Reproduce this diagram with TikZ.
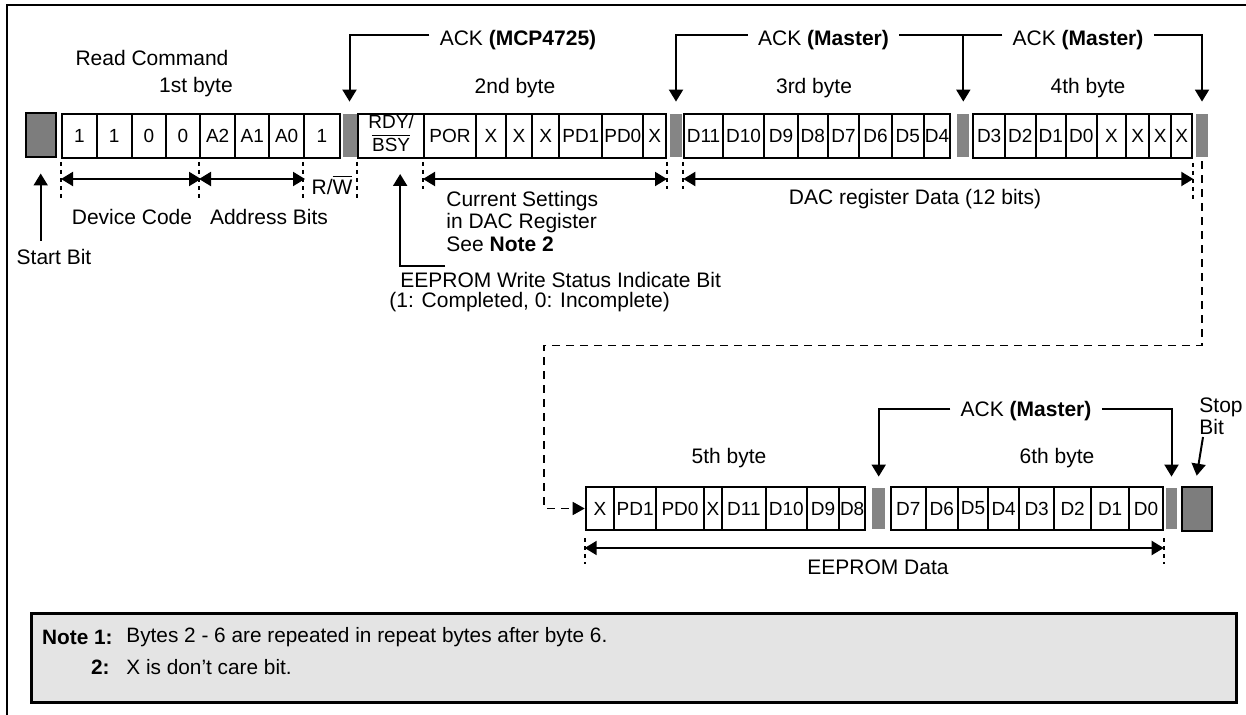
\documentclass[tikz,border=0pt]{standalone}
\usepackage{fontspec}
\setmainfont{Liberation Sans}
\usetikzlibrary{arrows.meta}
\definecolor{bargray}{RGB}{133,133,133}
\definecolor{boxgray}{RGB}{125,125,125}
\definecolor{notegray}{RGB}{228,228,228}
\newcommand{\rdybsy}{\smash{\raisebox{-2.4pt}{\begin{tabular}{@{}c@{}}RDY/\\$\overline{\hbox{BSY}}$\end{tabular}}}}
\newcommand{\byterow}[4]{%
  \foreach \a/\b/\t [count=\i] in {#4} {
    \node[cellbox, minimum width={(\b-\a)*0.5pt}, minimum height=#3] (#1c\i) at ({(\a+\b)/2},#2) {\t};
  }}
\begin{document}
\begin{tikzpicture}[x=0.5pt,y=-0.5pt,
  cellbox/.style={draw, line width=1pt, inner sep=0pt, font=\fontsize{9.5}{10}\selectfont},
  bar/.style={fill=bargray, inner sep=0pt},
  sbox/.style={draw, line width=1pt, fill=boxgray, inner sep=0pt, minimum width=15pt, minimum height=22pt},
  lbl/.style={inner sep=0pt, font=\fontsize{10.5}{11.25}\selectfont},
  ack/.style={inner xsep=5pt, inner ysep=0pt, font=\fontsize{10.5}{12}\selectfont},
  notelbl/.style={inner sep=0pt, font=\fontsize{10.4}{12}\selectfont},
  notebox/.style={draw, line width=1.5pt, fill=notegray, inner sep=0pt, minimum width=602.5pt, minimum height=44.5pt},
  arr/.style={line width=1pt, -{Triangle[length=6pt,width=7pt]}},
  dbl/.style={line width=1pt, {Triangle[length=6pt,width=7pt]}-{Triangle[length=6pt,width=7pt]}},
  tick/.style={line width=1pt, dash pattern=on 2pt off 2pt},
  loopline/.style={line width=0.8pt, dash pattern=on 4pt off 3pt, -{Triangle[length=6pt,width=6.5pt]}}
]
\useasboundingbox (0,0) rectangle (1246,715);
% outer frame (only left and top edges visible)
\draw[line width=1pt] (7,715) -- (7,5) -- (1246,5);

% ---------- first row ----------
\node[sbox] (start) at (40.7,135.5) {};
\byterow{b1}{136}{22pt}{62/96.7/1, 96.7/131.7/1, 131.7/166/0, 166/200/0, 200/235.3/A2, 235.3/269.3/A1, 269.3/304/A0, 304/340/1}
\node[bar, minimum width=7pt, minimum height=21.5pt] (bar1) at (349.5,135.5) {};
\byterow{b2}{136}{22pt}{358.3/424/{\rdybsy}, 424/476/POR, 476/505.7/X, 505.7/532.3/X, 532.3/559.3/X, 559.3/602.3/PD1, 602.3/643.3/PD0, 643.3/666/X}
\node[bar, minimum width=6pt, minimum height=21.5pt] (bar2) at (676,135.5) {};
\byterow{b3}{136}{22pt}{684.3/722.7/D11, 722.7/764.3/D10, 764.3/797.7/D9, 797.7/827.7/D8, 827.7/859.3/D7, 859.3/891.7/D6, 891.7/924/D5, 924/950/D4}
\node[bar, minimum width=6pt, minimum height=21.5pt] (bar3) at (963.3,135.5) {};
\byterow{b4}{136}{22pt}{973.3/1005/D3, 1005/1035.7/D2, 1035.7/1065.7/D1, 1065.7/1096.7/D0, 1096.7/1126/X, 1126/1149.3/X, 1149.3/1171/X, 1171/1192.3/X}
\node[bar, minimum width=6pt, minimum height=21.5pt] (bar4) at (1202,135.5) {};

% labels above first row
\node[lbl] (readcmd) at (152,58) {Read Command};
\node[lbl] (byte1) at (196,87) {1st byte};
\node[lbl] (byte2) at (515,88) {2nd byte};
\node[lbl] (byte3) at (814,88) {3rd byte};
\node[lbl] (byte4) at (1088,88) {4th byte};

% ACK brackets (top)
\node[ack] (ackmcp) at (518,40) {ACK \textbf{(MCP4725)}};
\draw[arr] ([yshift=2.5pt]ackmcp.west) -| ([yshift=6pt]bar1.north);
\node[ack] (ackm1) at (823.5,40) {ACK \textbf{(Master)}};
\draw[arr] ([yshift=2.5pt]ackm1.west) -| ([yshift=6pt]bar2.north);
\draw[arr] ([yshift=2.5pt]ackm1.east) -| ([yshift=6pt]bar3.north);
\node[ack] (ackm2) at (1078,40) {ACK \textbf{(Master)}};
\draw[line width=1pt] ([yshift=2.5pt]ackm2.west) -- ([yshift=2.5pt]ackm2.west -| bar3.north);
\draw[arr] ([yshift=2.5pt]ackm2.east) -| ([yshift=6pt]bar4.north);

% start bit
\node[lbl] (startlbl) at (54,257) {Start Bit};
\draw[arr] ([yshift=4pt]startlbl.north -| start.south) -- ([yshift=-7.5pt]start.south);

% ticks and spans below first row
\foreach \n in {b1c1, b1c5, b1c8, b2c1}
  \draw[tick] ([yshift=-1.5pt]\n.south west) -- ([yshift=-20pt]\n.south west);
\draw[tick] ([yshift=-1.5pt]b2c2.south west) -- ([yshift=-15pt]b2c2.south west);
\draw[tick] ([yshift=-1.5pt]b2c8.south east) -- ([yshift=-15pt]b2c8.south east);
\draw[tick] ([yshift=-1.5pt]b3c1.south west) -- ([yshift=-15pt]b3c1.south west);
\draw[tick] ([yshift=-2pt]b4c8.south east) -- ([yshift=-21pt]b4c8.south east);

\draw[dbl] ([yshift=-10pt]b1c1.south west) -- ([yshift=-10pt]b1c4.south east);
\draw[dbl] ([yshift=-10pt]b1c5.south west) -- ([yshift=-10pt]b1c7.south east);
\draw[dbl] ([yshift=-10pt]b2c2.south west) -- ([yshift=-10pt]b2c8.south east);
\draw[dbl] ([yshift=-10pt]b3c1.south west) -- ([yshift=-10pt]b4c8.south east);

\node[lbl] (devcode) at (132,217) {Device Code};
\node[lbl] (addrbits) at (269,217) {Address Bits};
\node[lbl] (rw) at (332,185) {R/$\overline{\hbox{W}}$};
\node[lbl, anchor=west, align=left] (curset) at (446,221) {Current Settings\\in DAC Register\\See \textbf{Note 2}};
\node[lbl] (dacreg) at (915,199) {DAC register Data (12 bits)};

% EEPROM write status
\node[lbl, anchor=west] (eewsb) at (400,280) {EEPROM Write Status Indicate Bit};
\node[lbl, anchor=west] (eecomp) at (389,302) {(1: Completed, 0: Incomplete)};
\coordinate (rdytail) at (445,266);
\draw[arr] (rdytail) -| ([xshift=4.5pt,yshift=-7.5pt]b2c1.south);

% ---------- second row ----------
\byterow{b5}{508.5}{21.5pt}{585.7/614.3/X, 614.3/656/PD1, 656/704/PD0, 704/721.7/X, 721.7/766/D11, 766/806.7/D10, 806.7/839.3/D9, 839.3/865/D8}
\node[bar, minimum width=6.3pt, minimum height=20.5pt] (bar5) at (878.7,508.5) {};
\byterow{b6}{508.5}{21.5pt}{890.7/926/D7, 926/957.7/D6, 957.7/988.3/D5, 988.3/1019/D4, 1019/1054.3/D3, 1054.3/1091/D2, 1091/1129.3/D1, 1129.3/1162.7/D0}
\node[bar, minimum width=5.8pt, minimum height=20.5pt] (bar6) at (1171.5,508.5) {};
\node[sbox] (stop) at (1196.7,508.7) {};

% dashed continuation loop
\draw[loopline] ([yshift=-2pt]bar4.south) -- ++(0,184) -- ++(-658,0) |- (b5c1.west);

\node[lbl] (byte5) at (729,458) {5th byte};
\node[lbl] (byte6) at (1057,458) {6th byte};
\node[ack] (ackm3) at (1026,411) {ACK \textbf{(Master)}};
\draw[arr] ([yshift=1pt]ackm3.west) -| ([yshift=5.5pt]bar5.north);
\draw[arr] ([yshift=1pt]ackm3.east) -| ([yshift=5.5pt]bar6.north);

\node[lbl, anchor=west, align=left, font=\fontsize{10.5}{10.8}\selectfont] (stoplbl) at (1199,416) {Stop\\Bit};
\coordinate (stoptail) at (1203,437);
\draw[line width=1pt, -{Triangle[length=6pt,width=7pt]}] (stoptail) -- ([yshift=5pt]stop.north);

\draw[tick] ([yshift=-3.5pt]b5c1.south west) -- ([yshift=-16.5pt]b5c1.south west);
\draw[tick] ([yshift=-3.5pt]b6c8.south east) -- ([yshift=-16.5pt]b6c8.south east);
\draw[dbl] ([yshift=-8.5pt]b5c1.south west) -- ([yshift=-8.5pt]b6c8.south east);
\node[lbl] (eedata) at (878,567) {EEPROM Data};

% ---------- notes ----------
\node[notebox] (notes) at (633.5,657.5) {};
\node[notelbl, anchor=east] (n1k) at (113,637) {\textbf{Note 1:}};
\node[notelbl, anchor=west] (n1t) at (126,637) {Bytes 2 - 6 are repeated in repeat bytes after byte 6.};
\node[notelbl, anchor=east] (n2k) at (110,667) {\textbf{2:}};
\node[notelbl, anchor=west] (n2t) at (126,667) {X is don’t care bit.};
\end{tikzpicture}
\end{document}
